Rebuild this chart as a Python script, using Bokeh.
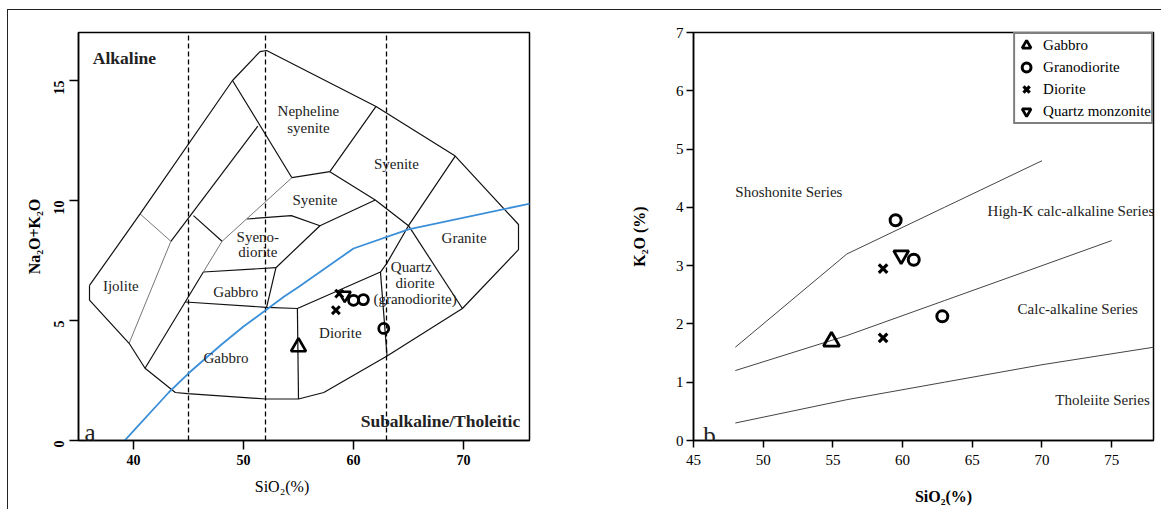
import math
from bokeh.plotting import figure
from bokeh.layouts import row
from bokeh.models import Label, Range1d, FixedTicker, Legend, LegendItem
from bokeh.core.properties import value
from bokeh.embed import file_html
from bokeh.resources import INLINE

FONT = "Liberation Serif"
NB = "\u00a0"

# ---------------- Panel a : TAS (plutonic) ----------------
a_x_ticks = [40, 50, 60, 70]
a_y_ticks = [0, 5, 10, 15]

tas_outline_x = [36.0, 36.0, 39.6, 41.05, 43.8, 44.9, 52.0, 55.0, 57.3, 63.05, 69.9, 75.0, 75.0,
                 69.25, 62.05, 52.1, 51.5, 49.0, 40.6, 36.0]
tas_outline_y = [6.46, 5.85, 4.05, 3.01, 2.0, 1.95, 1.73, 1.73, 2.0, 3.52, 5.5, 7.95, 9.0,
                 11.85, 13.92, 16.25, 16.2, 15.0, 9.44, 6.46]

tas_lines_x = [
    [43.4, 51.3],
    [49.0, 54.4, 57.85, 62.05],
    [45.45, 48.05],
    [41.05, 44.7, 46.35],
    [44.7, 52.1, 54.9, 62.45, 63.0, 65.0, 69.25],
    [62.45, 63.05],
    [54.9, 55.0],
    [46.35, 52.95],
    [52.1, 52.95, 56.95],
    [50.3, 54.35, 56.95],
    [57.85, 61.98, 65.0],
    [56.95, 61.98],
    [65.0, 69.9],
]
tas_lines_y = [
    [8.3, 13.1],
    [15.0, 10.95, 11.2, 13.92],
    [9.37, 8.3],
    [3.01, 5.77, 7.02],
    [5.77, 5.55, 5.5, 7.02, 7.36, 8.95, 11.85],
    [7.02, 3.52],
    [5.5, 1.73],
    [7.02, 7.2],
    [5.55, 7.2, 8.95],
    [9.23, 9.37, 8.95],
    [11.2, 10.02, 8.95],
    [8.95, 10.02],
    [8.95, 5.5],
]
tas_thin_x = [[40.6, 43.4, 39.6], [46.35, 48.05, 54.4]]
tas_thin_y = [[9.44, 8.3, 4.05], [7.02, 8.3, 10.95]]

tas_dividers = [45, 52, 63]

alk_line_x = [39.2, 40, 43.2, 45, 48, 50, 53.7, 55, 60, 65, 77.4]
alk_line_y = [0, 0.4, 2, 2.8, 4, 4.75, 6, 6.4, 8, 8.8, 10]

tas_field_names = ["Nepheline", "syenite", "Syenite", "Syenite", "Syeno-", "diorite", "Gabbro",
                   "Gabbro", "Ijolite", "Diorite", "Quartz", "diorite", "(granodiorite)", "Granite"]
tas_field_x = [55.9, 55.9, 63.9, 56.5, 51.3, 51.3, 49.3, 48.4, 38.85, 58.8, 65.25, 65.6, 65.6, 70.05]
tas_field_y = [13.72, 13.03, 11.51, 10.03, 8.5, 7.84, 6.19, 3.43, 6.44, 4.46, 7.22, 6.56, 5.88, 8.44]

a_gabbro_x = [55.0]
a_gabbro_y = [3.9]
a_granodiorite_x = [60.0, 60.9, 62.75]
a_granodiorite_y = [5.84, 5.87, 4.67]
a_diorite_x = [58.4, 58.7]
a_diorite_y = [5.43, 6.12]
a_qmonz_x = [59.2]
a_qmonz_y = [6.05]

# ---------------- Panel b : K2O vs SiO2 ----------------
b_x_ticks = [45, 50, 55, 60, 65, 70, 75]
b_y_ticks = [0, 1, 2, 3, 4, 5, 6, 7]

series_lines_x = [[48, 52, 56, 63, 70],
                  [48, 52, 56, 63, 70, 75],
                  [48, 52, 56, 63, 70, 78]]
series_lines_y = [[1.6, 2.4, 3.2, 4.0, 4.8],
                  [1.2, 1.5, 1.8, 2.4, 3.0, 3.43],
                  [0.3, 0.5, 0.7, 1.0, 1.3, 1.6]]

series_names = ["Shoshonite Series", "High-K calc-alkaline Series",
                "Calc-alkaline Series", "Tholeiite Series"]
series_name_x = [48.0, 66.1, 68.25, 70.95]
series_name_y = [4.26, 3.94, 2.26, 0.70]

b_gabbro_x = [54.9]
b_gabbro_y = [1.70]
b_granodiorite_x = [59.5, 60.8, 62.85]
b_granodiorite_y = [3.78, 3.10, 2.13]
b_diorite_x = [58.6, 58.6]
b_diorite_y = [2.95, 1.76]
b_qmonz_x = [59.9]
b_qmonz_y = [3.18]


def style(p, xt, yt, tick_font_size, bold_ticks, tick_out):
    p.grid.visible = False
    p.outline_line_color = "black"
    p.outline_line_width = 1.5
    p.background_fill_color = "white"
    p.border_fill_color = "white"
    p.xaxis.ticker = FixedTicker(ticks=xt)
    p.yaxis.ticker = FixedTicker(ticks=yt)
    for ax in p.xaxis + p.yaxis:
        ax.axis_line_width = 1.5
        ax.axis_line_color = "black"
        ax.major_tick_line_width = 1.5
        ax.major_tick_line_color = "black"
        ax.minor_tick_line_color = None
        ax.major_tick_in = 0
        ax.major_tick_out = tick_out
        ax.major_label_text_font = FONT
        ax.major_label_text_font_size = tick_font_size
        ax.major_label_text_color = "black"
        ax.major_label_text_font_style = "bold" if bold_ticks else "normal"
        ax.axis_label_text_font = FONT
        ax.axis_label_text_color = "black"


# ---------- figure a ----------
p1 = figure(width=580, height=499, x_range=Range1d(35, 76), y_range=Range1d(0, 17),
            output_backend="svg", toolbar_location=None,
            min_border_left=70, min_border_right=59, min_border_top=22, min_border_bottom=68)
style(p1, a_x_ticks, a_y_ticks, "14px", True, 9)
p1.yaxis.major_label_orientation = math.pi / 2
p1.yaxis.major_label_standoff = 11
p1.xaxis.major_label_standoff = 5
p1.yaxis.axis_label = "Na\u2082O+K\u2082O"
p1.yaxis.axis_label_text_font_size = "16px"
p1.yaxis.axis_label_text_font_style = "bold"
p1.yaxis.axis_label_standoff = 3
p1.xaxis.axis_label = "SiO\u2082(%)" + NB * 11
p1.xaxis.axis_label_text_font_size = "16px"
p1.xaxis.axis_label_text_font_style = "normal"
p1.xaxis.axis_label_standoff = 10

p1.multi_line(xs=tas_lines_x, ys=tas_lines_y, line_color="#111111", line_width=1.2)
p1.multi_line(xs=tas_thin_x, ys=tas_thin_y, line_color="#666666", line_width=0.9)
p1.line(tas_outline_x, tas_outline_y, line_color="#111111", line_width=1.2)
p1.segment(x0=tas_dividers, y0=[0] * len(tas_dividers), x1=tas_dividers, y1=[17] * len(tas_dividers),
           line_color="black", line_width=1.3, line_dash="5 3")
p1.line(alk_line_x, alk_line_y, line_color="#3b8fd8", line_width=1.8)

p1.text(x=tas_field_x, y=tas_field_y, text=tas_field_names, text_align="center",
        text_baseline="middle", text_font=value(FONT), text_font_size="15px", text_color="#222222")

p1.add_layout(Label(x=36.3, y=15.95, text="Alkaline", text_font=FONT, text_font_size="17.5px",
                    text_font_style="bold", text_baseline="middle", text_color="#222222"))
p1.add_layout(Label(x=75.15, y=0.8, text="Subalkaline/Tholeitic", text_font=FONT,
                    text_font_size="17.5px", text_font_style="bold", text_align="right",
                    text_baseline="middle", text_color="#222222"))
p1.add_layout(Label(x=35.55, y=0.35, text="a", text_font=FONT, text_font_size="25px",
                    text_baseline="alphabetic", text_color="#222222"))

p1.scatter(a_gabbro_x, a_gabbro_y, marker="triangle", size=15, fill_color=None,
           line_color="black", line_width=2.6)
p1.scatter(a_granodiorite_x, a_granodiorite_y, marker="circle", size=10, fill_color=None,
           line_color="black", line_width=2.8)
p1.scatter(a_diorite_x, a_diorite_y, marker="x", size=11, line_color="black", line_width=3)
p1.scatter(a_qmonz_x, a_qmonz_y, marker="inverted_triangle", size=12, fill_color=None,
           line_color="black", line_width=2.5)

# ---------- figure b ----------
p2 = figure(width=573, height=499, x_range=Range1d(45, 78), y_range=Range1d(0, 7),
            output_backend="svg", toolbar_location=None,
            min_border_left=105, min_border_right=8, min_border_top=22, min_border_bottom=69)
style(p2, b_x_ticks, b_y_ticks, "15px", False, 7)
p2.yaxis.major_label_standoff = 3
p2.xaxis.major_label_standoff = 7
p2.yaxis.axis_label = "K\u2082O (%)"
p2.yaxis.axis_label_text_font_size = "16px"
p2.yaxis.axis_label_text_font_style = "bold"
p2.yaxis.axis_label_standoff = 25
p2.xaxis.axis_label = NB * 10 + "SiO\u2082(%)"
p2.xaxis.axis_label_text_font_size = "16px"
p2.xaxis.axis_label_text_font_style = "bold"
p2.xaxis.axis_label_standoff = 20

p2.multi_line(xs=series_lines_x, ys=series_lines_y, line_color="#444444", line_width=1.0)
p2.text(x=series_name_x, y=series_name_y, text=series_names, text_align="left",
        text_baseline="middle", text_font=value(FONT), text_font_size="15px", text_color="#222222")
p2.add_layout(Label(x=45.7, y=0.09, text="b", text_font=FONT, text_font_size="25px",
                    text_baseline="alphabetic", text_color="#222222"))

r_g = p2.scatter(b_gabbro_x, b_gabbro_y, marker="triangle", size=16, fill_color=None,
                 line_color="black", line_width=2.8)
r_gd = p2.scatter(b_granodiorite_x, b_granodiorite_y, marker="circle", size=11, fill_color=None,
                  line_color="black", line_width=3)
r_d = p2.scatter(b_diorite_x, b_diorite_y, marker="x", size=12, line_color="black", line_width=3.2)
r_q = p2.scatter(b_qmonz_x, b_qmonz_y, marker="inverted_triangle", size=15, fill_color=None,
                 line_color="black", line_width=2.8)

legend = Legend(items=[LegendItem(label="Gabbro", renderers=[r_g]),
                       LegendItem(label="Granodiorite", renderers=[r_gd]),
                       LegendItem(label="Diorite", renderers=[r_d]),
                       LegendItem(label="Quartz monzonite", renderers=[r_q])],
                location="top_right", margin=0, padding=0, spacing=0,
                label_height=22, glyph_height=22, glyph_width=22, label_standoff=6,
                label_text_font=FONT, label_text_font_size="15px", label_text_color="black",
                border_line_color="black", border_line_width=2.5,
                background_fill_color="white", background_fill_alpha=1.0)
p2.add_layout(legend)

layout = row(p1, p2, margin=(9, 0, 0, 7),
             styles={"border-top": "1px solid #222", "border-left": "1px solid #222"})

open("out.html", "w").write(file_html(layout, INLINE))
